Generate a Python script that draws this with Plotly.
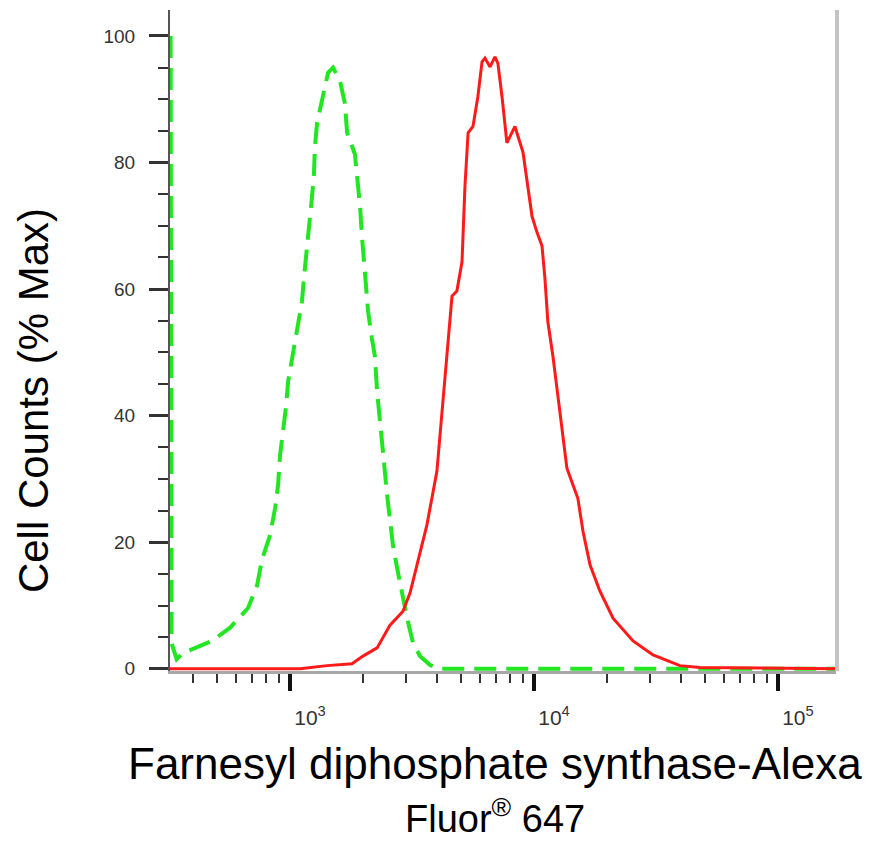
import plotly.graph_objects as go

# Isotype control (green dashed) - fluorescence intensity and % max
green_x = [324, 327, 343, 364, 479, 568, 673, 733, 767, 828, 869, 893, 910, 935, 964, 982,
           1028, 1069, 1119, 1140, 1175, 1197, 1230, 1253, 1265, 1291, 1365, 1432, 1500,
           1603, 1679, 1714, 1845, 1901, 1936, 1972, 2009, 2046, 2089, 2168, 2228, 2275,
           2339, 2404, 2500, 2570, 2642, 2748, 2904, 3020, 3192, 3412, 3750, 4121, 173000]
green_y = [100, 4, 1.5, 2.5, 4.4, 6.5, 9.6, 13.2, 17.2, 21.1, 25.4, 29.0, 33.7, 36.9, 41.6, 45.4,
           50.1, 53.4, 58.0, 61.7, 66.3, 69.9, 74.5, 78.1, 82.5, 86.3, 90.7, 94.2, 95.0,
           92.9, 89.3, 84.7, 81.3, 76.9, 73.1, 68.3, 64.7, 60.5, 56.5, 52.1, 49.4, 43.8,
           38.4, 34.3, 27.4, 23.8, 19.5, 15.9, 11.2, 8.0, 4.1, 2.0, 0.6, 0, 0]

# Farnesyl diphosphate synthase stained (red solid)
red_x = [322, 1099, 1419, 1795, 1991, 2275, 2570, 2904, 3105, 3311, 3639, 4000, 4236, 4446,
         4613, 4831, 5070, 5212, 5370, 5623, 5888, 6124, 6295, 6607, 6918, 7112, 7396, 7745,
         8356, 9016, 9817, 10280, 10789, 11092, 11402, 11967, 12417, 13032, 13646, 15136,
         15888, 16982, 18621, 21086, 25468, 30761, 39628, 47863, 173000]
red_y = [0, 0, 0.5, 0.8, 2.0, 3.3, 6.9, 9.1, 12.0, 16.4, 22.7, 31.2, 42.7, 52.1,
         58.9, 59.7, 64.3, 76.2, 84.7, 85.7, 90.4, 95.9, 96.5, 95.1, 96.7, 95.7, 90.4, 83.1,
         85.7, 81.6, 71.5, 69.0, 66.8, 61.6, 54.8, 49.3, 44.3, 37.5, 31.7, 26.9,
         21.7, 16.4, 12.3, 8.0, 4.4, 2.2, 0.5, 0.2, 0]

x_major = [1e3, 1e4, 1e5]
x_major_text = ['10<sup>3</sup>', '10<sup>4</sup>', '10<sup>5</sup>']
x_minor = [400, 500, 600, 700, 800, 900,
           2000, 3000, 4000, 5000, 6000, 7000, 8000, 9000,
           20000, 30000, 40000, 50000, 60000, 70000, 80000, 90000]

y_title = 'Cell Counts (% Max)'
x_title_1 = 'Farnesyl diphosphate synthase-Alexa'
x_title_2 = 'Fluor<sup>®</sup> 647'

fig = go.Figure()
fig.add_trace(go.Scatter(x=green_x, y=green_y, mode='lines',
                         line=dict(color='#22e622', width=4, dash='22px,10px'),
                         showlegend=False, hoverinfo='skip'))
fig.add_trace(go.Scatter(x=red_x, y=red_y, mode='lines',
                         line=dict(color='#ff1a1a', width=3),
                         showlegend=False, hoverinfo='skip'))

fig.update_xaxes(type='log', range=[2.508, 5.238],
                 tickmode='array', tickvals=x_major, ticktext=x_major_text,
                 ticks='outside', ticklen=17, tickwidth=4, tickcolor='#111',
                 showline=True, linecolor='#a8a8a8', linewidth=2.5,
                 showgrid=False, zeroline=False,
                 minor=dict(tickmode='array', tickvals=x_minor, ticks='outside',
                            ticklen=9, tickwidth=2, tickcolor='#333', showgrid=False),
                 tickfont=dict(family='Liberation Sans', size=21, color='#333'),
                 ticklabelshift=20, ticklabelstandoff=9)

fig.update_yaxes(range=[-0.35, 104.1], tickmode='linear', tick0=0, dtick=20,
                 ticks='outside', ticklen=19, tickwidth=3, tickcolor='#333',
                 showline=True, linecolor='#555', linewidth=2,
                 showgrid=False, zeroline=False,
                 minor=dict(dtick=5, ticks='outside', ticklen=10, tickwidth=2,
                            tickcolor='#333', showgrid=False),
                 tickfont=dict(family='Liberation Sans', size=19, color='#333'),
                 ticklabelstandoff=10)

fig.add_shape(type='line', xref='paper', yref='paper', x0=1.0015, x1=1.0015, y0=0, y1=1,
              line=dict(color='#c4c4c4', width=4))

fig.add_annotation(text=y_title, xref='paper', yref='paper', x=-0.204, y=0.4085,
                   xanchor='center', yanchor='middle', textangle=-90, showarrow=False,
                   font=dict(family='Liberation Sans', size=42, color='#000'))
fig.add_annotation(text=x_title_1, xref='paper', yref='paper', x=0.488, y=-0.1392,
                   xanchor='center', yanchor='middle', showarrow=False,
                   font=dict(family='Liberation Sans', size=44, color='#000'))
fig.add_annotation(text=x_title_2, xref='paper', yref='paper', x=0.488, y=-0.2195,
                   xanchor='center', yanchor='middle', showarrow=False,
                   font=dict(family='Liberation Sans', size=38, color='#000'))

fig.update_layout(width=883, height=836, margin=dict(l=162, r=55, t=2, b=173),
                  paper_bgcolor='white', plot_bgcolor='white')

fig.write_html('out.html')
